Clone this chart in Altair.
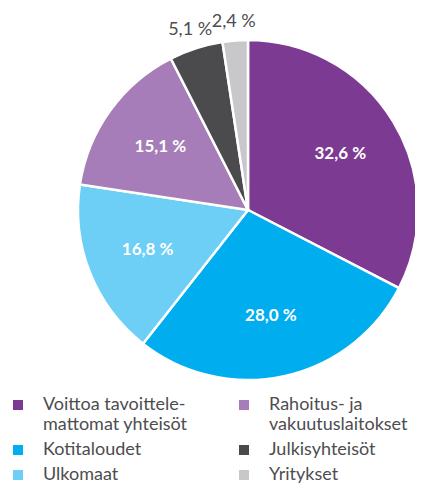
import altair as alt
import pandas as pd

# Pie slices in drawing order (clockwise from 12 o'clock)
categories = [
    "Voittoa tavoittele-\nmattomat yhteisöt",
    "Kotitaloudet",
    "Ulkomaat",
    "Rahoitus- ja\nvakuutuslaitokset",
    "Julkisyhteisöt",
    "Yritykset",
]
shares = [32.6, 28.0, 16.8, 15.1, 5.1, 2.4]
slice_order = [0, 1, 2, 3, 4, 5]
slice_colors = ["#7D3A92", "#00AEEF", "#6DCFF6", "#A67DB8", "#4B4B4E", "#C8C8CA"]

df = pd.DataFrame({"category": categories, "share": shares, "ord": slice_order})

FONT = "Lato"
CX, CY = 240, 202

base = alt.Chart(df).transform_calculate(
    lab="replace(format(datum.share, '.1f'), '.', ',') + ' %'"
).encode(
    theta=alt.Theta("share:Q", stack=True),
    order=alt.Order("ord:Q", sort="ascending"),
    x=alt.value(CX),
    y=alt.value(CY),
)

pie = base.mark_arc(outerRadius=170, stroke="white", strokeWidth=2.5).encode(
    color=alt.Color(
        "category:N",
        scale=alt.Scale(domain=categories, range=slice_colors),
        legend=alt.Legend(
            orient="none",
            legendX=1,
            legendY=388,
            columns=2,
            title=None,
            padding=0,
            symbolType="square",
            symbolSize=100,
            symbolStrokeWidth=0,
            labelFont=FONT,
            labelFontSize=18,
            labelColor="#4d4d4f",
            labelOffset=16,
            labelLimit=400,
            labelBaseline="middle",
            labelExpr="split(datum.label, '\\n')",
            rowPadding=7,
            columnPadding=47,
        ),
    )
)

inner_labels = base.mark_text(
    radius=108, font=FONT, fontSize=17, fontWeight="bold", color="white"
).encode(
    text="lab:N",
    opacity=alt.condition("datum.share > 10", alt.value(1), alt.value(0)),
)

outer_labels = base.mark_text(
    radius=189, font=FONT, fontSize=18, color="#4d4d4f"
).encode(
    text="lab:N",
    opacity=alt.condition("datum.share < 10", alt.value(1), alt.value(0)),
)

chart = (
    alt.layer(pie, inner_labels, outer_labels)
    .properties(
        width=407,
        height=476,
        padding=0,
        autosize=alt.AutoSizeParams(type="none"),
    )
    .configure_view(strokeWidth=0)
)

chart.save("out.html", embed_options={"renderer": "svg", "actions": False})
